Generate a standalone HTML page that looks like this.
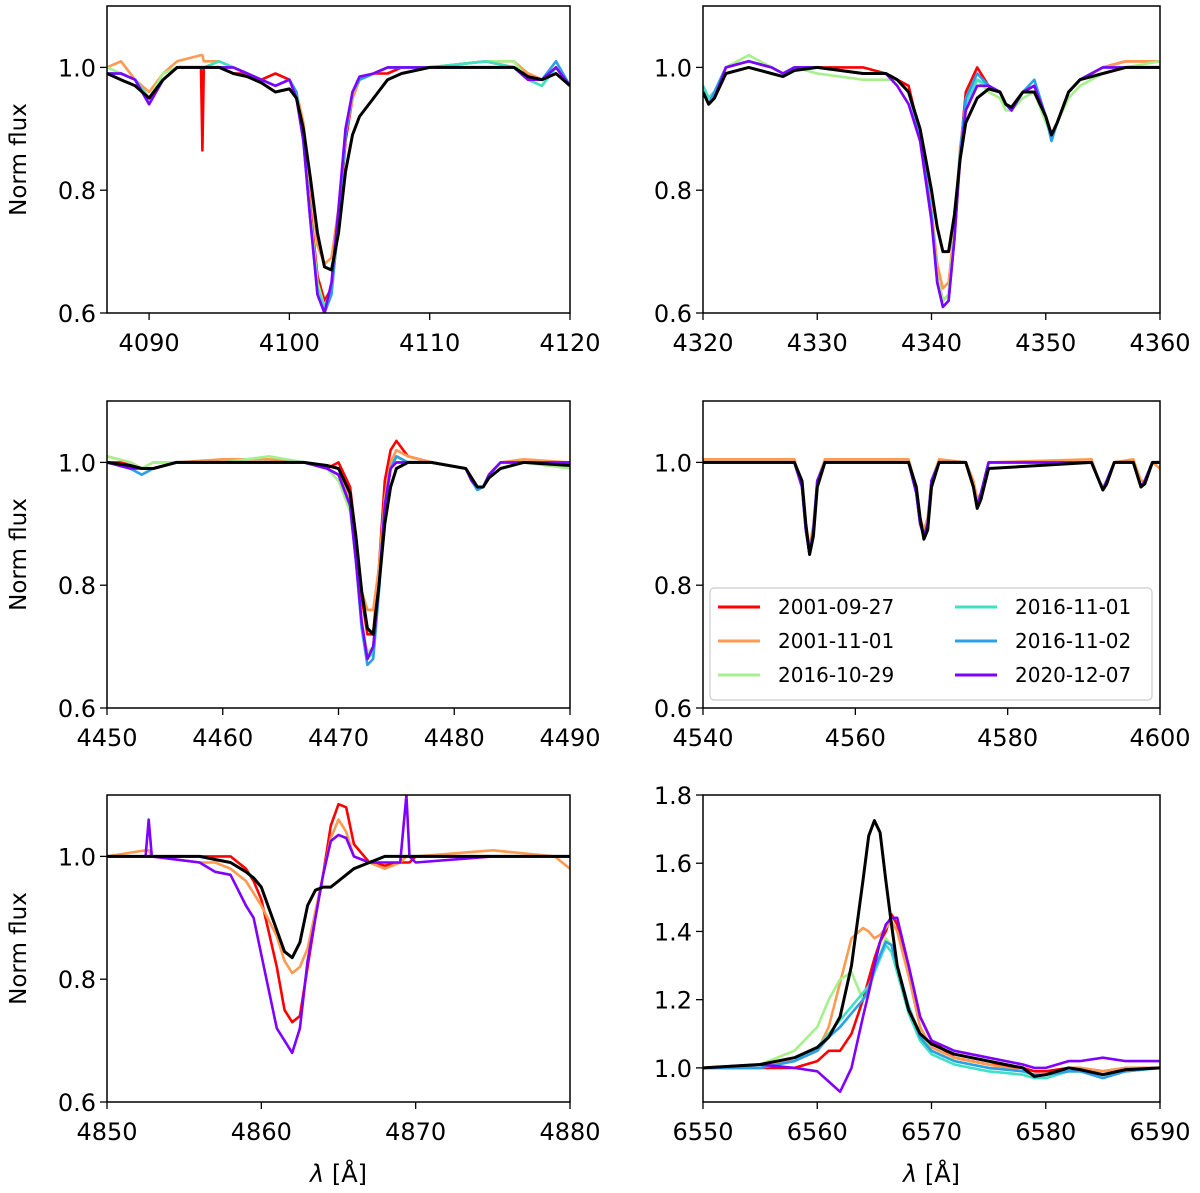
<!DOCTYPE html>
<html><head><meta charset="utf-8"><style>
html,body{margin:0;padding:0;background:#fff;}
svg{display:block;font-family:"DejaVu Sans","Liberation Sans",sans-serif;}
</style></head><body>
<svg id="fig" width="1200" height="1193" viewBox="0 0 1200 1193" xmlns="http://www.w3.org/2000/svg"></svg>
<script>
// ---------- data ----------
const seriesNames = ["2001-09-27","2001-11-01","2016-10-29","2016-11-01","2016-11-02","2020-12-07"];
const seriesColors = ["#ff0000","#ff9a50","#a6f08c","#3fe0c5","#2c9fe8","#8000ff"];

// Panel 1 (H delta)
const p1_wl    = [4087,4088,4089,4090,4091,4092,4093.7,4093.8,4093.9,4095,4096,4097,4098,4099,4100,4100.5,4101,4101.5,4102,4102.5,4103,4103.5,4104,4104.5,4105,4106,4107,4108,4110,4114,4116,4117,4118,4119,4120];
const p1_model = [0.99,0.98,0.97,0.95,0.98,1.0,1.0,1.0,1.0,1.0,0.99,0.985,0.975,0.96,0.965,0.95,0.90,0.82,0.73,0.675,0.67,0.73,0.83,0.89,0.92,0.95,0.98,0.99,1.0,1.0,1.0,0.985,0.98,0.99,0.97];
const p1_red    = [0.99,0.99,0.98,0.95,0.98,1.0,1.0,0.865,1.0,1.0,0.99,0.99,0.98,0.99,0.98,0.96,0.89,0.77,0.66,0.62,0.64,0.74,0.88,0.95,0.98,0.99,0.99,1.0,1.0,1.01,1.0,0.99,0.98,1.0,0.97];
const p1_orange = [1.0,1.01,0.98,0.96,0.99,1.01,1.02,1.02,1.01,1.01,1.0,0.99,0.98,0.97,0.98,0.96,0.91,0.81,0.71,0.68,0.69,0.77,0.89,0.95,0.98,0.99,1.0,1.0,1.0,1.01,1.01,0.99,0.98,1.0,0.97];
const p1_green  = [1.0,0.99,0.98,0.95,0.99,1.0,1.0,1.0,1.0,1.01,1.0,0.99,0.98,0.97,0.98,0.96,0.89,0.76,0.65,0.61,0.64,0.75,0.89,0.96,0.98,0.99,1.0,1.0,1.0,1.01,1.01,0.98,0.97,1.0,0.97];
const p1_cyan   = [0.99,0.99,0.98,0.95,0.98,1.0,1.0,1.0,1.0,1.01,1.0,0.99,0.98,0.97,0.98,0.96,0.88,0.75,0.64,0.61,0.64,0.75,0.89,0.96,0.98,0.99,1.0,1.0,1.0,1.01,1.0,0.98,0.97,1.0,0.97];
const p1_blue   = [0.99,0.99,0.98,0.94,0.98,1.0,1.0,1.0,1.0,1.0,1.0,0.99,0.98,0.97,0.98,0.96,0.88,0.75,0.63,0.60,0.63,0.75,0.89,0.96,0.98,0.99,1.0,1.0,1.0,1.0,1.0,0.98,0.98,1.01,0.97];
const p1_purple = [0.99,0.99,0.98,0.94,0.98,1.0,1.0,1.0,1.0,1.0,1.0,0.99,0.98,0.97,0.98,0.95,0.88,0.75,0.63,0.60,0.65,0.77,0.90,0.96,0.985,0.99,1.0,1.0,1.0,1.0,1.0,0.98,0.98,1.0,0.97];

// Panel 2 (H gamma)
const p2_wl    = [4320,4320.5,4321,4322,4324,4326,4327,4328,4330,4334,4336,4337,4338,4339,4340,4340.5,4341,4341.5,4342,4342.5,4343,4344,4345,4346,4346.5,4347,4348,4349,4350,4350.5,4351,4352,4353,4355,4357,4360];
const p2_model = [0.96,0.94,0.95,0.99,1.0,0.99,0.985,0.995,1.0,0.99,0.99,0.98,0.96,0.90,0.80,0.74,0.70,0.70,0.76,0.85,0.91,0.95,0.965,0.96,0.94,0.935,0.96,0.96,0.92,0.89,0.91,0.96,0.98,0.99,1.0,1.0];
const p2_red    = [0.97,0.95,0.96,1.0,1.01,1.0,0.99,1.0,1.0,1.0,0.99,0.98,0.97,0.89,0.76,0.66,0.62,0.63,0.72,0.86,0.96,1.0,0.97,0.96,0.94,0.93,0.96,0.97,0.92,0.89,0.91,0.96,0.98,1.0,1.01,1.01];
const p2_orange = [0.97,0.95,0.96,1.0,1.01,1.0,0.99,1.0,1.0,0.99,0.99,0.98,0.96,0.89,0.77,0.68,0.64,0.65,0.74,0.87,0.94,0.98,0.97,0.96,0.94,0.93,0.96,0.97,0.92,0.89,0.91,0.96,0.98,1.0,1.01,1.01];
const p2_green  = [0.97,0.95,0.96,1.0,1.02,1.0,0.99,1.0,0.99,0.98,0.98,0.98,0.96,0.89,0.76,0.66,0.62,0.63,0.73,0.86,0.94,0.98,0.96,0.95,0.93,0.93,0.95,0.96,0.91,0.89,0.91,0.95,0.97,0.99,1.0,1.01];
const p2_cyan   = [0.97,0.95,0.96,1.0,1.01,1.0,0.99,1.0,1.0,0.99,0.99,0.98,0.96,0.89,0.76,0.65,0.61,0.62,0.72,0.86,0.94,0.98,0.97,0.96,0.94,0.93,0.96,0.97,0.92,0.89,0.91,0.96,0.98,1.0,1.0,1.0];
const p2_blue   = [0.96,0.94,0.96,1.0,1.01,1.0,0.99,1.0,1.0,0.99,0.99,0.98,0.96,0.89,0.76,0.65,0.61,0.62,0.72,0.86,0.95,0.99,0.97,0.96,0.94,0.93,0.96,0.98,0.92,0.88,0.91,0.96,0.98,1.0,1.0,1.0];
const p2_purple = [0.96,0.94,0.95,1.0,1.01,1.0,0.99,1.0,1.0,0.99,0.99,0.97,0.94,0.88,0.75,0.65,0.61,0.62,0.72,0.85,0.93,0.97,0.97,0.96,0.94,0.93,0.96,0.97,0.92,0.89,0.91,0.96,0.98,1.0,1.0,1.0];

// Panel 3 (He I 4471)
const p3_wl    = [4450,4452,4453,4454,4456,4460,4464,4467,4469,4470,4471,4471.5,4472,4472.5,4473,4473.5,4474,4474.5,4475,4476,4478,4481,4481.5,4482,4482.5,4483,4484,4486,4490];
const p3_model = [1.0,0.995,0.99,0.99,1.0,1.0,1.0,1.0,0.995,0.99,0.95,0.88,0.79,0.73,0.72,0.80,0.90,0.96,0.99,1.0,1.0,0.99,0.975,0.96,0.96,0.975,0.99,1.0,0.995];
const p3_red    = [1.0,1.0,0.99,0.99,1.0,1.0,1.0,1.0,0.99,1.0,0.96,0.88,0.78,0.72,0.72,0.83,0.97,1.02,1.035,1.01,1.0,0.99,0.97,0.96,0.96,0.98,1.0,1.0,1.0];
const p3_orange = [1.01,1.0,0.99,1.0,1.0,1.005,1.005,1.0,0.99,0.98,0.94,0.87,0.79,0.76,0.76,0.83,0.94,1.0,1.02,1.01,1.0,0.99,0.97,0.96,0.96,0.98,1.0,1.005,1.0];
const p3_green  = [1.01,1.0,0.99,1.0,1.0,1.0,1.01,1.0,0.99,0.97,0.92,0.84,0.74,0.69,0.70,0.80,0.93,0.99,1.01,1.0,1.0,0.99,0.97,0.96,0.96,0.98,1.0,1.0,0.99];
const p3_cyan   = [1.0,0.99,0.99,0.99,1.0,1.0,1.0,1.0,0.99,0.98,0.93,0.84,0.73,0.68,0.69,0.80,0.93,0.99,1.0,1.0,1.0,0.99,0.97,0.96,0.96,0.98,1.0,1.0,1.0];
const p3_blue   = [1.0,0.99,0.98,0.99,1.0,1.0,1.0,1.0,0.99,0.98,0.93,0.84,0.73,0.67,0.68,0.79,0.93,0.99,1.01,1.0,1.0,0.99,0.97,0.955,0.96,0.98,1.0,1.0,1.0];
const p3_purple = [1.0,0.99,0.99,0.99,1.0,1.0,1.0,1.0,0.99,0.98,0.93,0.84,0.74,0.68,0.70,0.80,0.93,0.99,1.0,1.0,1.0,0.99,0.97,0.96,0.96,0.98,1.0,1.0,1.0];

// Panel 4 (Si III)
const p4_wl    = [4540,4552,4553,4553.5,4554,4554.5,4555,4556,4567,4568,4568.5,4569,4569.5,4570,4571,4574.5,4575.5,4576,4576.5,4577.5,4591,4592,4592.5,4593,4594,4596.5,4597.5,4598,4599,4600];
const p4_model = [1.0,1.0,0.97,0.90,0.85,0.88,0.96,1.0,1.0,0.96,0.91,0.875,0.89,0.96,1.0,1.0,0.96,0.925,0.94,0.99,1.0,0.97,0.955,0.965,1.0,1.0,0.96,0.965,1.0,1.0];
const p4_red    = [1.0,1.0,0.96,0.89,0.85,0.89,0.97,1.0,1.0,0.95,0.90,0.88,0.90,0.97,1.0,1.0,0.96,0.93,0.95,1.0,1.0,0.97,0.955,0.97,1.0,1.0,0.96,0.97,1.0,1.0];
const p4_orange = [1.005,1.005,0.96,0.90,0.86,0.90,0.97,1.005,1.005,0.96,0.91,0.89,0.91,0.97,1.005,1.0,0.97,0.94,0.95,1.0,1.005,0.97,0.96,0.97,1.0,1.005,0.97,0.97,1.0,0.99];
const p4_green  = [1.0,1.0,0.96,0.89,0.85,0.89,0.97,1.0,1.0,0.95,0.90,0.88,0.90,0.97,1.0,1.0,0.96,0.93,0.95,1.0,1.0,0.97,0.955,0.97,1.0,1.0,0.96,0.97,1.0,1.0];
const p4_cyan   = [1.0,1.0,0.96,0.89,0.85,0.89,0.97,1.0,1.0,0.95,0.90,0.88,0.90,0.97,1.0,1.0,0.96,0.93,0.95,1.0,1.0,0.97,0.955,0.97,1.0,1.0,0.96,0.97,1.0,1.0];
const p4_blue   = [1.0,1.0,0.96,0.89,0.85,0.89,0.97,1.0,1.0,0.95,0.90,0.88,0.90,0.97,1.0,1.0,0.96,0.93,0.95,1.0,1.0,0.97,0.955,0.97,1.0,1.0,0.96,0.97,1.0,1.0];
const p4_purple = [1.0,1.0,0.96,0.89,0.85,0.89,0.97,1.0,1.0,0.95,0.90,0.88,0.90,0.97,1.0,1.0,0.96,0.93,0.95,1.0,1.0,0.97,0.955,0.97,1.0,1.0,0.96,0.97,1.0,1.0];

// Panel 5 (H beta)
const p5_wl    = [4850,4852.5,4852.7,4852.9,4856,4857,4858,4859,4859.5,4860,4861,4861.5,4862,4862.5,4863,4863.5,4864,4864.5,4865,4865.5,4866,4867,4868,4869,4869.4,4869.6,4870,4875,4879,4880];
const p5_model = [1.0,1.0,1.0,1.0,1.0,0.995,0.99,0.975,0.965,0.95,0.88,0.845,0.835,0.86,0.92,0.945,0.95,0.95,0.96,0.97,0.98,0.99,1.0,1.0,1.0,1.0,1.0,1.0,1.0,1.0];
const p5_red    = [1.0,1.0,1.0,1.0,1.0,1.0,1.0,0.98,0.96,0.93,0.82,0.75,0.73,0.74,0.82,0.90,0.97,1.05,1.085,1.08,1.02,0.99,0.985,0.99,0.99,0.99,1.0,1.0,1.0,1.0];
const p5_orange = [1.0,1.01,1.01,1.0,0.99,0.99,0.98,0.96,0.94,0.92,0.87,0.83,0.81,0.82,0.85,0.91,0.97,1.03,1.06,1.04,1.0,0.99,0.98,0.99,1.0,1.0,1.0,1.01,1.0,0.98];
const p5_purple = [1.0,1.0,1.06,1.0,0.99,0.975,0.97,0.92,0.90,0.84,0.72,0.70,0.68,0.72,0.83,0.90,0.97,1.025,1.035,1.03,1.0,0.99,0.99,0.99,1.1,1.0,0.99,1.0,1.0,1.0];

// Panel 6 (H alpha)
const p6_wl    = [6550,6555,6558,6560,6561,6562,6563,6564,6564.5,6565,6565.5,6566,6566.5,6567,6568,6569,6570,6572,6575,6578,6579,6580,6582,6583,6585,6587,6590];
const p6_model = [1.0,1.01,1.03,1.06,1.09,1.15,1.3,1.55,1.68,1.725,1.69,1.55,1.42,1.3,1.17,1.10,1.07,1.04,1.02,1.0,0.975,0.98,1.0,0.995,0.98,0.995,1.0];
const p6_red    = [1.0,1.0,1.0,1.02,1.05,1.05,1.1,1.2,1.26,1.32,1.37,1.40,1.45,1.42,1.3,1.15,1.08,1.03,1.01,1.0,0.99,0.99,1.0,1.0,0.99,1.0,1.0];
const p6_orange = [1.0,1.01,1.02,1.05,1.12,1.25,1.38,1.41,1.4,1.38,1.39,1.41,1.43,1.4,1.27,1.12,1.06,1.03,1.01,0.99,0.98,0.98,1.0,1.0,0.99,1.0,1.0];
const p6_green  = [1.0,1.01,1.05,1.12,1.2,1.26,1.28,1.2,1.22,1.28,1.33,1.38,1.36,1.3,1.18,1.1,1.05,1.02,1.0,0.99,0.98,0.98,0.99,0.99,0.98,0.99,1.0];
const p6_cyan   = [1.0,1.0,1.02,1.06,1.1,1.14,1.18,1.22,1.24,1.28,1.32,1.36,1.34,1.28,1.16,1.08,1.04,1.01,0.99,0.98,0.97,0.97,0.99,0.99,0.98,0.99,1.0];
const p6_blue   = [1.0,1.0,1.02,1.05,1.09,1.12,1.16,1.2,1.23,1.29,1.33,1.37,1.36,1.3,1.18,1.09,1.05,1.02,1.0,0.99,0.98,0.98,0.99,0.99,0.97,0.99,1.0];
const p6_purple = [1.0,1.01,1.0,0.99,0.96,0.93,1.0,1.15,1.22,1.3,1.37,1.42,1.44,1.44,1.3,1.15,1.08,1.05,1.03,1.01,1.0,1.0,1.02,1.02,1.03,1.02,1.02];

const xTicks1=[4090,4100,4110,4120], xTicks2=[4320,4330,4340,4350,4360], xTicks3=[4450,4460,4470,4480,4490],
      xTicks4=[4540,4560,4580,4600], xTicks5=[4850,4860,4870,4880], xTicks6=[6550,6560,6570,6580,6590];
const yTicksA=[0.6,0.8,1.0], yTicksB=[1.0,1.2,1.4,1.6,1.8];

// ---------- drawing ----------
const NS="http://www.w3.org/2000/svg";
const svg=document.getElementById('fig');
function mk(tag,attrs,parent){const e=document.createElementNS(NS,tag);for(const k in attrs)e.setAttribute(k,attrs[k]);(parent||svg).appendChild(e);return e;}

const panels=[
 {id:1,x0:107,x1:570,y0:6,y1:313,xmin:4087,xmax:4120,ymin:0.6,ymax:1.1,xt:xTicks1,yt:yTicksA,wl:p1_wl,model:p1_model,obs:[p1_red,p1_orange,p1_green,p1_cyan,p1_blue,p1_purple],ylab:true},
 {id:2,x0:703,x1:1160,y0:6,y1:313,xmin:4320,xmax:4360,ymin:0.6,ymax:1.1,xt:xTicks2,yt:yTicksA,wl:p2_wl,model:p2_model,obs:[p2_red,p2_orange,p2_green,p2_cyan,p2_blue,p2_purple]},
 {id:3,x0:107,x1:570,y0:401,y1:708,xmin:4450,xmax:4490,ymin:0.6,ymax:1.1,xt:xTicks3,yt:yTicksA,wl:p3_wl,model:p3_model,obs:[p3_red,p3_orange,p3_green,p3_cyan,p3_blue,p3_purple],ylab:true},
 {id:4,x0:703,x1:1160,y0:401,y1:708,xmin:4540,xmax:4600,ymin:0.6,ymax:1.1,xt:xTicks4,yt:yTicksA,wl:p4_wl,model:p4_model,obs:[p4_red,p4_orange,p4_green,p4_cyan,p4_blue,p4_purple],legend:true},
 {id:5,x0:107,x1:570,y0:795,y1:1102,xmin:4850,xmax:4880,ymin:0.6,ymax:1.1,xt:xTicks5,yt:yTicksA,wl:p5_wl,model:p5_model,obs:[p5_red,p5_orange,null,null,null,p5_purple],ylab:true,xlab:true},
 {id:6,x0:703,x1:1160,y0:795,y1:1102,xmin:6550,xmax:6590,ymin:0.9,ymax:1.8,xt:xTicks6,yt:yTicksB,wl:p6_wl,model:p6_model,obs:[p6_red,p6_orange,p6_green,p6_cyan,p6_blue,p6_purple],xlab:true}
];
const defs=mk('defs',{});
panels.forEach(p=>{
  const g=mk('g',{});
  
  
  const sx=v=>p.x0+(v-p.xmin)/(p.xmax-p.xmin)*(p.x1-p.x0);
  const sy=v=>p.y1-(v-p.ymin)/(p.ymax-p.ymin)*(p.y1-p.y0);
  const cp=mk('clipPath',{id:'cp'+p.id},defs);
  mk('rect',{x:p.x0,y:p.y0,width:p.x1-p.x0,height:p.y1-p.y0},cp);
  const plot=mk('g',{'clip-path':'url(#cp'+p.id+')'},g);
  const path=arr=>arr.map((v,i)=>(i?'L':'M')+sx(p.wl[i]).toFixed(1)+','+sy(v).toFixed(1)).join('');
  p.obs.forEach((arr,i)=>{ if(!arr) return;
    const l=mk('path',{d:path(arr),fill:'none',stroke:seriesColors[i],'stroke-width':2.6,'stroke-linejoin':'round'},plot);
    
    
  });
  const m=mk('path',{d:path(p.model),fill:'none',stroke:'#000','stroke-width':3,'stroke-linejoin':'round'},plot);
  
  
  const fr=mk('rect',{x:p.x0,y:p.y0,width:p.x1-p.x0,height:p.y1-p.y0,fill:'none',stroke:'#000','stroke-width':1.5},g);
  
  
  p.xt.forEach(t=>{const x=sx(t);
    mk('line',{x1:x,x2:x,y1:p.y1,y2:p.y1+7,stroke:'#000','stroke-width':1.3},g);
    const tx=mk('text',{x:x,y:p.y1+38,'text-anchor':'middle','font-size':24},g);tx.textContent=t;
    
    
  });
  p.yt.forEach(t=>{const y=sy(t);
    mk('line',{x1:p.x0-7,x2:p.x0,y1:y,y2:y,stroke:'#000','stroke-width':1.3},g);
    const tx=mk('text',{x:p.x0-11,y:y+9,'text-anchor':'end','font-size':24},g);tx.textContent=t.toFixed(1);
    
    
  });
  if(p.ylab){const cy=(p.y0+p.y1)/2;
    const t=mk('text',{x:26,y:cy,'text-anchor':'middle','font-size':23,transform:'rotate(-90 26 '+cy+')'},g);t.textContent='Norm flux';
    
    
  }
  if(p.xlab){const cx=(p.x0+p.x1)/2;
    const t=mk('text',{x:cx,y:1182,'text-anchor':'middle','font-size':24},g);
    t.innerHTML='<tspan font-style="italic">λ</tspan> [Å]';
    
    
  }
  if(p.legend){
    const lg=mk('g',{},g);
    
    
    mk('rect',{x:710,y:588,width:442,height:112,rx:4,fill:'#fff','fill-opacity':0.85,stroke:'#ccc','stroke-width':1.2},lg);
    seriesNames.forEach((n,i)=>{
      const col=Math.floor(i/3),row=i%3;
      const lx=col?955:718, ly=607+row*34;
      const e=mk('g',{},lg);
      
      
      mk('line',{x1:lx,x2:lx+42,y1:ly,y2:ly,stroke:seriesColors[i],'stroke-width':3},e);
      const t=mk('text',{x:lx+60,y:ly+7,'font-size':20},e);t.textContent=n;
    });
  }
});
</script>
</body></html>
